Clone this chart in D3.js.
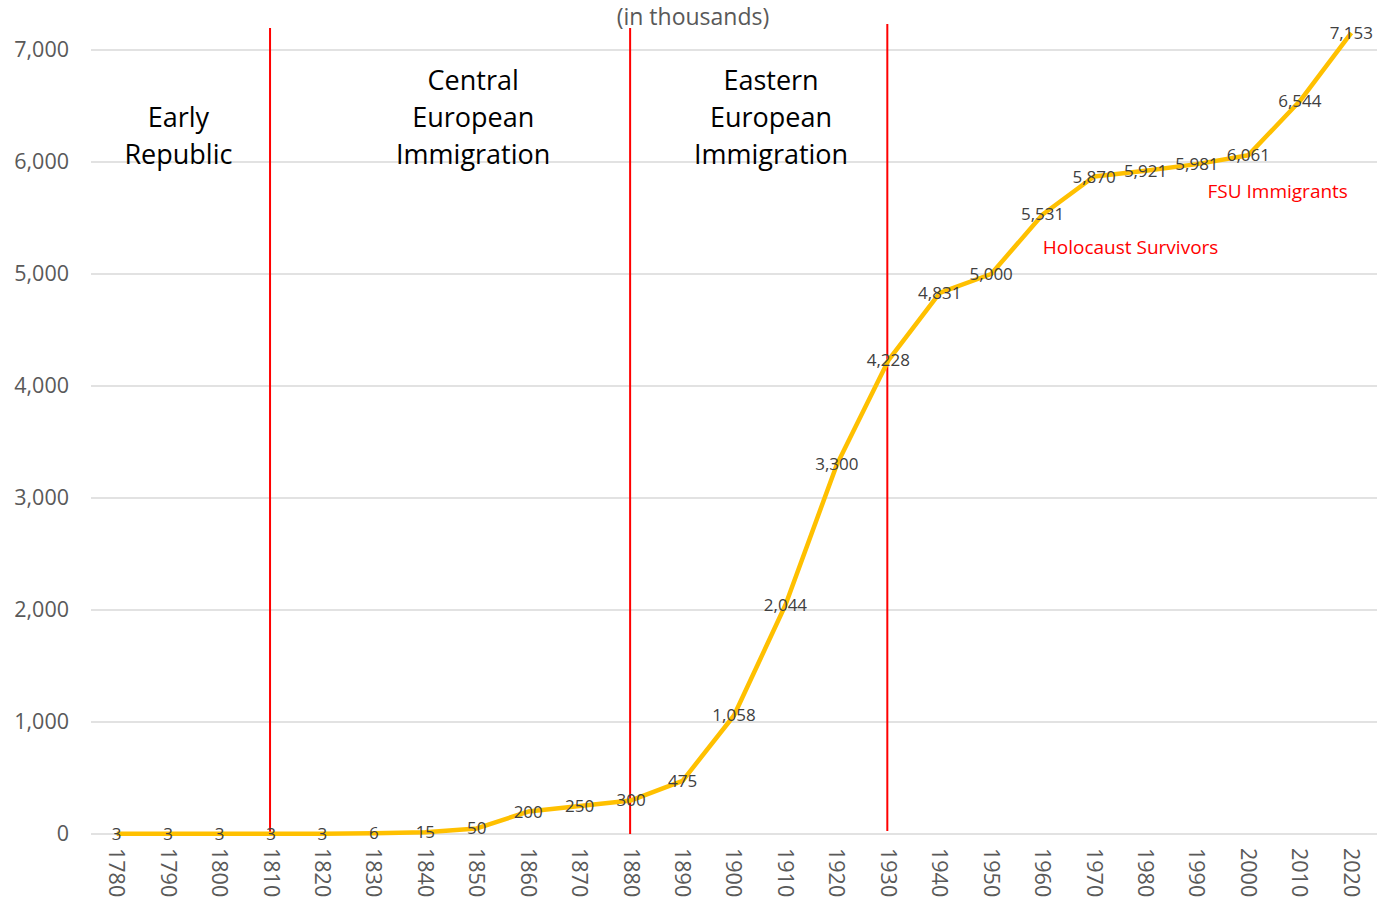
<!DOCTYPE html>
<html>
<head>
<meta charset="utf-8">
<script src="https://cdn.jsdelivr.net/npm/d3@7"></script>
<style>
  body { margin: 0; background: #fff; }
  text { font-family: "Open Sans", "Noto Sans", sans-serif; }
</style>
</head>
<body>
<svg id="main-svg"></svg>
<script>
const svg = d3.select("#main-svg");

// DATA
const years = [1780, 1790, 1800, 1810, 1820, 1830, 1840, 1850, 1860, 1870, 1880, 1890, 1900,
  1910, 1920, 1930, 1940, 1950, 1960, 1970, 1980, 1990, 2000, 2010, 2020];
const population = [3, 3, 3, 3, 3, 6, 15, 50, 200, 250, 300, 475, 1058,
  2044, 3300, 4228, 4831, 5000, 5531, 5870, 5921, 5981, 6061, 6544, 7153];
const yTicks = [0, 1000, 2000, 3000, 4000, 5000, 6000, 7000];
const dividerYears = [1810, 1880, 1930];
const periodLabels = [
  { lines: ["Early", "Republic"], at: 1792 },
  { lines: ["Central", "European", "Immigration"], at: 1849.3 },
  { lines: ["Eastern", "European", "Immigration"], at: 1907.2 }
];
const waveLabels = [
  { text: "Holocaust Survivors", at: 1977.1 },
  { text: "FSU Immigrants", at: 2005.7 }
];

// LAYOUT
const CANVAS_WIDTH = 1379;
const CANVAS_HEIGHT = 905;
const PLOT_LEFT = 91;
const PLOT_RIGHT = 1377;
const PLOT_TOP = 50;
const PLOT_BOTTOM = 834;

svg.attr("width", CANVAS_WIDTH).attr("height", CANVAS_HEIGHT);

const x = d3.scaleBand()
  .domain(years)
  .range([PLOT_LEFT, PLOT_RIGHT]);

const y = d3.scaleLinear()
  .domain([0, 7000])
  .range([PLOT_BOTTOM, PLOT_TOP]);

const cx = (yr) => x(yr) + x.bandwidth() / 2;

// continuous year scale for free-floating annotations
const xYear = d3.scaleLinear()
  .domain([years[0], years[years.length - 1]])
  .range([cx(years[0]), cx(years[years.length - 1])]);

// gridlines
svg.append("g")
  .selectAll("line")
  .data(yTicks)
  .join("line")
  .attr("x1", PLOT_LEFT)
  .attr("x2", PLOT_RIGHT)
  .attr("y1", d => y(d))
  .attr("y2", d => y(d))
  .attr("stroke", "#d9d9d9")
  .attr("stroke-width", 1.3);

// y axis labels
const yAxis = svg.append("g")
  .attr("transform", `translate(${PLOT_LEFT - 22},0)`)
  .call(d3.axisLeft(y).tickValues(yTicks).tickFormat(d3.format(",")).tickSize(0));
yAxis.select(".domain").remove();
yAxis.selectAll("text")
  .attr("fill", "#595959")
  .style("font-size", "21.5px")
  .attr("x", 0);

// x axis labels, rotated
const xAxis = svg.append("g")
  .attr("transform", `translate(0,${PLOT_BOTTOM + 14})`)
  .call(d3.axisBottom(x).tickSize(0));
xAxis.select(".domain").remove();
xAxis.selectAll("text")
  .attr("fill", "#595959")
  .style("font-size", "21.5px")
  .attr("transform", "rotate(90)")
  .attr("x", 0)
  .attr("y", 0)
  .attr("dy", "0.35em")
  .attr("text-anchor", "start");

// divider lines
svg.append("g")
  .selectAll("line")
  .data(dividerYears)
  .join("line")
  .attr("x1", d => cx(d) - 1)
  .attr("x2", d => cx(d) - 1)
  .attr("y1", (d, i) => i === 2 ? 24 : 28)
  .attr("y2", (d, i) => i === 2 ? 831 : PLOT_BOTTOM)
  .attr("stroke", "#ff0000")
  .attr("stroke-width", 2);

// line
const points = years.map((yr, i) => ({ year: yr, value: population[i] }));
svg.append("path")
  .datum(points)
  .attr("fill", "none")
  .attr("stroke", "#ffc000")
  .attr("stroke-width", 4.5)
  .attr("stroke-linejoin", "round")
  .attr("d", d3.line().x(d => cx(d.year)).y(d => y(d.value)));

// data labels
svg.append("g")
  .selectAll("text")
  .data(points)
  .join("text")
  .attr("x", d => cx(d.year))
  .attr("y", d => y(d.value))
  .attr("dy", "0.35em")
  .attr("text-anchor", "middle")
  .attr("fill", "#404040")
  .style("font-size", "17px")
  .text(d => d3.format(",")(d.value));

// subtitle
svg.append("text")
  .attr("x", 693)
  .attr("y", 17)
  .attr("dy", "0.35em")
  .attr("text-anchor", "middle")
  .attr("fill", "#595959")
  .style("font-size", "23px")
  .text("(in thousands)");

// period labels
periodLabels.forEach(p => {
  const midX = xYear(p.at);
  const n = p.lines.length;
  const t = svg.append("text")
    .attr("text-anchor", "middle")
    .attr("fill", "#000")
    .style("font-size", "27px");
  p.lines.forEach((line, i) => {
    t.append("tspan")
      .attr("x", midX)
      .attr("y", 155 - (n - 1 - i) * 37)
      .attr("dy", "0.35em")
      .text(line);
  });
});

// wave labels
svg.append("g")
  .selectAll("text")
  .data(waveLabels)
  .join("text")
  .attr("x", d => xYear(d.at))
  .attr("y", (d, i) => i === 0 ? 247 : 191)
  .attr("dy", "0.35em")
  .attr("fill", "#ff0000")
  .style("font-size", "19px")
  .attr("text-anchor", "middle")
  .text(d => d.text);
</script>
</body>
</html>
